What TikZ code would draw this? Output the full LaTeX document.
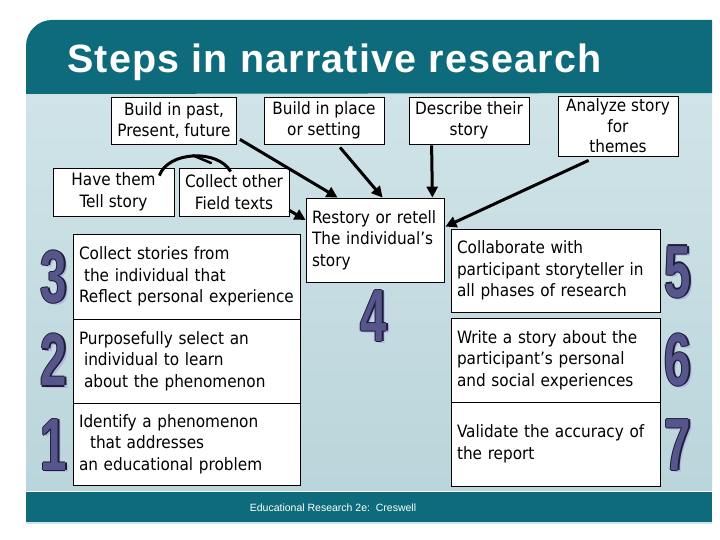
\documentclass[tikz,border=0pt]{standalone}
\usepackage{fontspec}
\usetikzlibrary{arrows.meta,calc}
\newfontfamily\boxfont{DejaVu Sans Condensed}
\newfontfamily\titlefont[LetterSpace=3]{Liberation Sans}
\newfontfamily\digfont{Liberation Sans}
\newfontfamily\footfont{Liberation Sans}
\definecolor{hdr}{HTML}{0E6B7B}
\definecolor{bgtop}{HTML}{D0E4E8}
\definecolor{bgbot}{HTML}{BAD5DB}
\definecolor{numc}{HTML}{56568C}
\definecolor{numo}{HTML}{1E1E36}
\definecolor{nums}{HTML}{B4B6E6}
\tikzset{
  box/.style={draw=black, line width=0.8pt, fill=white, inner xsep=6pt, inner ysep=0pt,
    font=\boxfont\fontsize{17}{21.5}\selectfont},
  lbox/.style={box, align=left},
  cbox/.style={box, align=center},
  arr/.style={line width=3pt, -{Triangle[length=11pt,width=11pt]}},
  numtxt/.style={inner sep=0pt, font=\digfont\bfseries\fontsize{74}{74}\selectfont}
}
\newcommand{\dg}[1]{\scalebox{0.64}[1]{#1}}
\begin{document}
\begin{tikzpicture}[x=1pt,y=-1pt]
\useasboundingbox (0,0) rectangle (720,540);
\fill[white] (0,0) rectangle (720,540);
% content background
\shade[top color=bgtop, bottom color=bgbot] (26,94) rectangle (712,490);
% header
\fill[hdr] (26,94) [rounded corners=26pt] -- (26,20) [sharp corners] -- (712,20) -- (712,93) -- cycle;
\draw[white!80!hdr, line width=1pt] (26,94.5) -- (712,94.5);
% footer
\fill[hdr] (26,492) rectangle (712,522);
\draw[bgtop, line width=1.2pt] (26,523) -- (712,523);
\node[anchor=base west, inner sep=0pt, text=white, font=\titlefont\bfseries\fontsize{39.5}{40}\selectfont] (title) at (67,73) {Steps in narrative research};
\node[anchor=base, inner sep=0pt, text=white, font=\footfont\fontsize{10.5}{12}\selectfont] (foot) at (333,511) {Educational Research 2e:\ \ Creswell};

% top boxes
\node[cbox, minimum width=118pt, minimum height=47pt] (past) at (174,120.5) {Build in past,\\Present, future};
\node[cbox, minimum width=120pt, minimum height=47pt] (place) at (324,120.5) {Build in place\\or setting};
\node[cbox, minimum width=120pt, minimum height=47pt] (describe) at (469,120.5) {Describe their\\story};
\node[cbox, minimum width=120pt, minimum height=60pt, font=\boxfont\fontsize{17}{20.5}\selectfont] (analyze) at (618,126) {Analyze story\\for\\themes};
\node[cbox, minimum width=121pt, minimum height=48pt] (have) at (113.5,192) {Have them\\Tell story};
\node[cbox, minimum width=108pt, minimum height=48pt] (collect) at (234,192) {Collect other\\Field texts};
\node[lbox, minimum width=138pt, minimum height=84pt, text width=126pt, inner xsep=6pt] (restory) at (375,240) {Restory or retell\\The individual’s\\story};

% left stack
\node[lbox, minimum width=227pt, minimum height=85pt, text width=215pt] (s3) at (186.5,276.5) {Collect stories from\\\hspace*{5pt}the individual that\\Reflect personal experience};
\node[lbox, minimum width=227pt, minimum height=84pt, text width=215pt] (s2) at (186.5,361) {Purposefully select an\\\hspace*{5pt}individual to learn\\\hspace*{5pt}about the phenomenon};
\node[lbox, minimum width=227pt, minimum height=82pt, text width=215pt] (s1) at (186.5,444) {Identify a phenomenon\\\hspace*{11pt}that addresses\\an educational problem};
% right stack
\node[lbox, minimum width=209pt, minimum height=83pt, text width=197pt] (s5) at (555.5,270.5) {Collaborate with\\participant storyteller in\\all phases of research};
\node[lbox, minimum width=209pt, minimum height=84pt, text width=197pt] (s6) at (555.5,360) {Write a story about the\\participant’s personal\\and social experiences};
\node[lbox, minimum width=209pt, minimum height=84pt, text width=197pt] (s7) at (555.5,444) {Validate the accuracy of\\the report};

% big numbers
\foreach \d/\x/\y in {3/54/277, 2/54/360, 1/54/445, 4/374/316, 5/678/272, 6/678/360, 7/678/445} {
  \node[numtxt, text=nums] (n\d s) at (\x+3,\y+2.5) {\dg{\d}};
  \foreach \ox/\oy in {-1.3/0, 1.3/0, 0/-1.3, 0/1.3} 
    \node[numtxt, text=numo] at (\x+\ox,\y+\oy) {\dg{\d}};
  \node[numtxt, text=numc] (n\d) at (\x,\y) {\dg{\d}};
}

% arrows
\draw[arr] ($(past.south east)+(3,-5)$) -- ($(restory.north west)+(32,0)$);
\draw[arr] ($(place.south)+(16,3)$) -- ($(restory.north west)+(77,0)$);
\draw[arr] ($(describe.south west)+(23,1)$) -- ($(restory.north east)+(-12,0)$);
\draw[arr] ($(analyze.south west)+(31,4)$) -- ($(restory.north east)+(1,29)$);
\draw[arr] ($(collect.south east)+(0,-6)$) -- ($(restory.west)+(0,-20)$);
% curved link between "Have them" and "Collect other"
\coordinate (arcA) at ($(have.north east)+(-15,8)$);
\coordinate (arcB) at ($(collect.north west)+(52,4)$);
\draw[line width=3pt] (arcA) .. controls (168,151) and (218,149) .. (arcB);
\draw[line width=2.5pt, line cap=round] (193,155.5) -- (211,163);
\end{tikzpicture}
\end{document}
